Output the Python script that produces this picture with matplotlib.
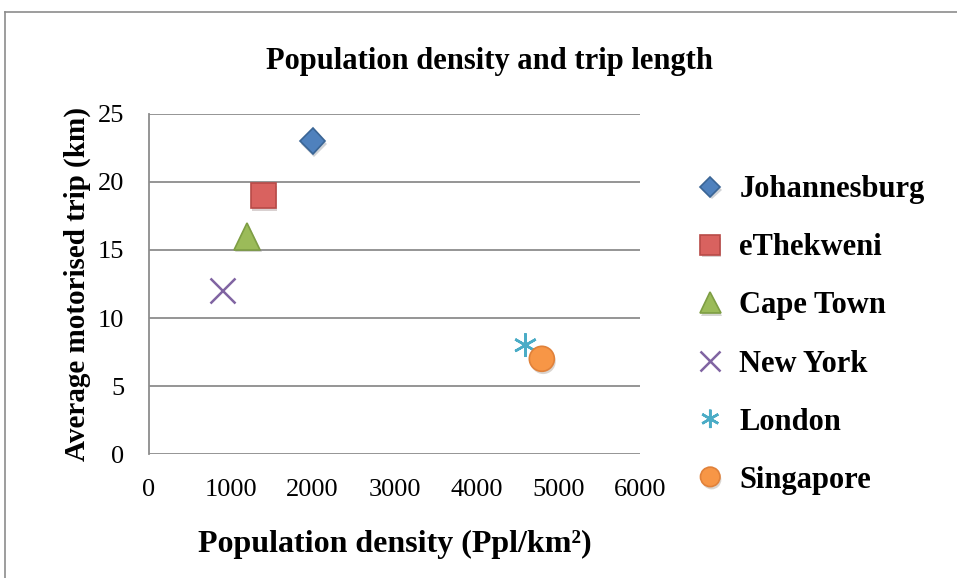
import matplotlib
matplotlib.use('Agg')
from matplotlib import pyplot as plt
from matplotlib.lines import Line2D
import matplotlib.patheffects as pe

# data
cities = ['Johannesburg', 'eThekweni', 'Cape Town', 'New York', 'London', 'Singapore']
density = [2000, 1400, 1200, 900, 4600, 4800]
trip_km = [23, 19, 16, 12, 8, 7]

markers = ['D', 's', '^', 'x', '*', 'o']
sizes = [13, 18, 19, 18, 17, 18]
faces = ['#4F81BD', '#D9625F', '#9BBB59', '#8064A2', '#4BACC6', '#F79646']
edges = ['#3A6595', '#B84A47', '#7E9E44', '#8064A2', '#4BACC6', '#E0813A']

plt.rcParams['font.family'] = ['Liberation Serif', 'DejaVu Serif']

fig = plt.figure(figsize=(9.57, 5.78), dpi=100)
ax = fig.add_axes([0.1557, 0.2145, 0.5131, 0.5883])

shadow = [pe.SimplePatchShadow(offset=(1, -2), alpha=0.2), pe.Normal()]

for i, name in enumerate(cities):
    m = markers[i]
    if m == '*':
        # asterisk made of three crossing lines
        ln, = ax.plot(density[i], trip_km[i], linestyle='none', marker=(6, 2, 0),
                      markersize=17, markeredgecolor=edges[i], markeredgewidth=1.8,
                      label=name, zorder=3)
    elif m == 'x':
        ln, = ax.plot(density[i], trip_km[i], linestyle='none', marker='x',
                      markersize=sizes[i], markeredgecolor=edges[i], markeredgewidth=1.8,
                      label=name, zorder=3)
    else:
        ln, = ax.plot(density[i], trip_km[i], linestyle='none', marker=m,
                      markersize=sizes[i], markerfacecolor=faces[i],
                      markeredgecolor=edges[i], markeredgewidth=1.2,
                      label=name, zorder=3)
    ln.set_path_effects(shadow)

ax.set_xlim(0, 6000)
ax.set_ylim(0, 25)
ax.set_xticks(range(0, 6001, 1000))
ax.set_yticks(range(0, 26, 5))
ax.yaxis.grid(True, color='#8C8C8C', linewidth=1.3)
ax.set_axisbelow(True)
for s in ['top', 'right']:
    ax.spines[s].set_visible(False)
ax.spines['bottom'].set_visible(False)
ax.spines['left'].set_color('#8C8C8C')
ax.spines['left'].set_linewidth(1.3)
ax.tick_params(axis='both', length=0, labelsize=19)
ax.tick_params(axis='x', pad=18)
ax.tick_params(axis='y', pad=18)

fig.text(489 / 957, 1 - 61 / 578, 'Population density and trip length',
         fontsize=22, fontweight='bold', ha='center', va='center')
ax.set_xlabel('Population density (Ppl/km²)', fontsize=23, fontweight='bold', labelpad=21)
ax.set_ylabel('Average motorised trip (km)', fontsize=21, fontweight='bold', labelpad=5)

leg = ax.legend(loc='center left', bbox_to_anchor=(698 / 957, 1 - 335 / 578),
                bbox_transform=fig.transFigure, frameon=False,
                prop={'size': 22, 'weight': 'bold'}, markerscale=0.78,
                handlelength=0.8, handletextpad=0.55, labelspacing=0.95,
                borderaxespad=0, borderpad=0)

# outer chart frame
fig.add_artist(Line2D([5 / 957, 5 / 957], [0, 1 - 12 / 578], color='#8C8C8C', lw=1.2))
fig.add_artist(Line2D([5 / 957, 1], [1 - 12 / 578, 1 - 12 / 578], color='#8C8C8C', lw=1.2))

fig.savefig('out.png', dpi=100)
plt.close(fig)
